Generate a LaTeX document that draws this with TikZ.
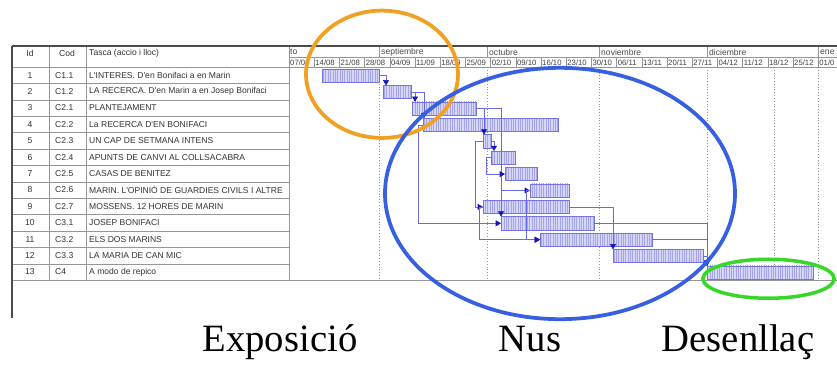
\documentclass[tikz,border=0pt]{standalone}
\usepackage{fontspec}
\setmainfont{Liberation Serif}
\newfontfamily\tabfont{Liberation Sans}
\usepackage{tikz}
\usetikzlibrary{arrows.meta,calc,patterns.meta}

\definecolor{barfill}{RGB}{214,214,250}
\definecolor{barline}{RGB}{165,165,235}
\definecolor{baredge}{RGB}{115,115,225}
\definecolor{linkblue}{RGB}{105,105,225}
\definecolor{tipblue}{RGB}{20,20,185}
\definecolor{gridgray}{RGB}{150,150,150}
\definecolor{ringorange}{RGB}{240,160,35}
\definecolor{ringblue}{RGB}{55,95,225}
\definecolor{ringgreen}{RGB}{55,215,40}

\tikzset{
  bar/.style={draw=baredge, line width=0.5pt, inner sep=0pt, outer sep=0pt, minimum height=0.4cm,
    preaction={fill=barfill}, pattern={Lines[angle=90,distance=2pt,line width=0.35pt]}, pattern color=barline},
  link/.style={draw=linkblue, line width=0.5pt, -{Triangle[width=5pt,length=4.5pt,color=tipblue]}},
  cell/.style={font=\tabfont\fontsize{7.3}{8}\selectfont, text=black!80, inner sep=0pt},
  week/.style={font=\tabfont\fontsize{6.6}{7}\selectfont, text=black!75, inner sep=0pt, anchor=west},
  rowline/.style={draw=gridgray, line width=0.5pt},
  frame/.style={draw=black!70, line width=0.9pt},
  big/.style={font=\fontsize{33}{36}\selectfont, inner sep=0pt, anchor=base}
}

\begin{document}
\begin{tikzpicture}[x=0.03cm, y=-0.03cm]
            \fill[white] (0,0) rectangle (837,365);
            \useasboundingbox (0,0) rectangle (837,365);

            \foreach \x in {379,487,599,707,774,818} {
                \draw[gridgray, dotted] (\x,67) -- (\x,280);
            }
            \foreach \k in {0,...,12} {
                \draw[rowline] (12,{67+16.4*\k}) -- (289,{67+16.4*\k});
            }
            \draw[rowline] (12,280.2) -- (837,280.2);
            \foreach \x in {49,86,289} {
                \draw[rowline] (\x,46) -- (\x,280.2);
            }
            \draw[rowline] (289,57) -- (837,57);
            \draw[rowline] (289,67) -- (837,67);
            \foreach \x in {379,487,599,707,818} {
                \draw[rowline] (\x,46) -- (\x,57);
            }
            \foreach \n in {1,...,21} {
                \draw[rowline] ({289+25.2*\n},57) -- ({289+25.2*\n},67);
            }
            \draw[frame] (12,46) -- (837,46);
            \draw[frame] (12,46) -- (12,318);

            \node[cell] (hid) at (30,53) {Id};
            \node[cell] (hcod) at (67,53) {Cod};
            \node[cell, anchor=west] (htask) at (89,53) {Tasca (accio i lloc)};
            \foreach \i/\c/\t in {1/C1.1/{L'INTERES. D'en Bonifaci a en Marin},
                                  2/C1.2/{LA RECERCA. D'en Marin a en Josep Bonifaci},
                                  3/C2.1/{PLANTEJAMENT},
                                  4/C2.2/{La RECERCA D'EN BONIFACI},
                                  5/C2.3/{UN CAP DE SETMANA INTENS},
                                  6/C2.4/{APUNTS DE CANVI AL COLLSACABRA},
                                  7/C2.5/{CASAS DE BENITEZ},
                                  8/C2.6/{MARIN. L'OPINIÓ DE GUARDIES CIVILS I ALTRE},
                                  9/C2.7/{MOSSENS. 12 HORES DE MARIN},
                                  10/C3.1/{JOSEP BONIFACI},
                                  11/C3.2/{ELS DOS MARINS},
                                  12/C3.3/{LA MARIA DE CAN MIC},
                                  13/C4/{A modo de repico}} {
                \node[cell] (id\i) at (30,{75.2+16.4*(\i-1)}) {\i};
                \node[cell, anchor=west] (cod\i) at (55,{75.2+16.4*(\i-1)}) {\c};
                \node[cell, anchor=west] (task\i) at (89,{75.2+16.4*(\i-1)}) {\t};
            }

            \foreach \x/\m in {290/to, 381/septiembre, 489/octubre, 601/noviembre, 709/diciembre, 820/ene} {
                \node[cell, anchor=west, text=black!70] (m\m) at (\x,52) {\m};
            }
            \foreach \w [count=\n from 0] in {07/08,14/08,21/08,28/08,04/09,11/09,18/09,25/09,02/10,09/10,16/10,
                                              23/10,30/10,06/11,13/11,20/11,27/11,04/12,11/12,18/12,25/12,01/0} {
                \node[week] (wk\n) at ({290+25.2*\n},62.3) {\w};
            }

            \foreach \i/\a/\b in {1/322/379, 2/383/411, 3/412/476, 4/423/558, 5/483/491, 6/491/515, 7/505/537,
                                  8/530/569, 9/483/569, 10/501/594, 11/540/652, 12/613/703, 13/707/813} {
                \node[bar, minimum width={(\b-\a)*0.03cm}] (b\i) at ({(\a+\b)/2},{75.7+16.4*(\i-1)}) {};
            }

            \draw[link] (b1.east) -| ($(b2.north west)+(3,0)$);
            \draw[link] (b2.east) -| ($(b3.north west)+(3,0)$);
            \draw[link] (b2.east) -| ($(b4.north west)+(1,0)$);
            \draw[link] (b3.east) -| ($(b5.north west)+(1,0)$);
            \draw[link] (b3.east) -| (b10.north west);
            \draw[link] (b10.north west |- b8.west) -- (b8.west);
            \draw[link] (b4.west) -- ++(-5,0) |- (b10.west);
            \draw[link] (b5.east) -| ($(b6.north west)+(3,0)$);
            \draw[link] (b5.west) -- ++(-8,0) |- (b9.west);
            \draw[link] (b6.west) -- ++(-5,0) |- (b7.west);
            \draw[link] (b8.west) -- ++(-4,0) |- (b11.west);
            \draw[link] (b9.west) -- ++(-4,0) |- (b11.west);
            \draw[link] (b9.east) -| (b12.north west);
            \draw[link] (b10.east) -| (b13.north west);
            \draw[link] (b11.east) -| (b13.north west);
            \draw[link] (b12.east) -| (b13.north west);

            \draw[ringorange, line width=3.2pt] (382,74.25) ellipse [x radius=2.28cm, y radius=1.91cm];
            \draw[ringblue, line width=3.2pt] (560,193.5) ellipse [x radius=5.25cm, y radius=3.77cm];
            \draw[ringgreen, line width=3pt] (768.5,278.75) ellipse [x radius=1.97cm, y radius=0.585cm];

            \node[big] (expo) at (280,351) {Exposició};
            \node[big] (nus) at (530,351) {Nus};
            \node[big] (desen) at (738,351) {Desenllaç};
        \end{tikzpicture}
\end{document}
